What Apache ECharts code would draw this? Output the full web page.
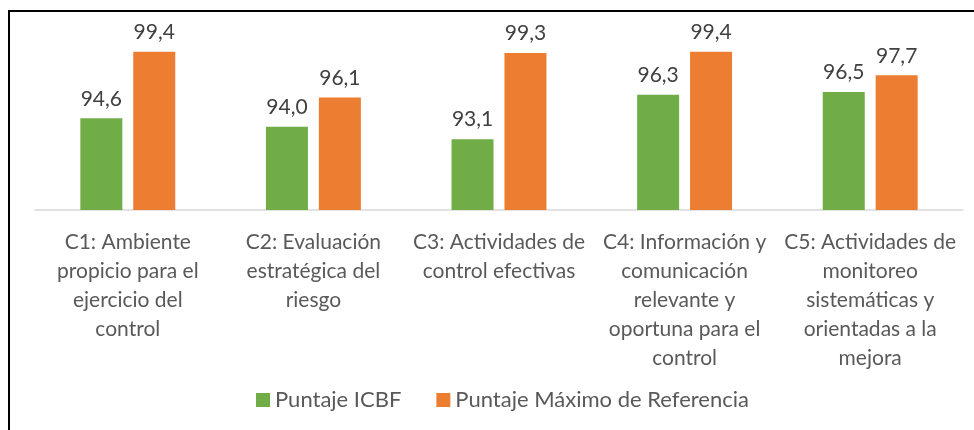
<!DOCTYPE html>
<html>
<head>
<meta charset="utf-8">
<script src="https://cdn.jsdelivr.net/npm/echarts@6/dist/echarts.min.js"></script>
<style>
  html, body { margin: 0; padding: 0; background: #fff; }
  #chart { width: 974px; height: 430px; }
</style>
</head>
<body>
<div id="chart"></div>
<script>
const categories = [
  "C1: Ambiente\npropicio para el\nejercicio del\ncontrol",
  "C2: Evaluación\nestratégica del\nriesgo",
  "C3: Actividades de\ncontrol efectivas",
  "C4: Información y\ncomunicación\nrelevante y\noportuna para el\ncontrol",
  "C5: Actividades de\nmonitoreo\nsistemáticas y\norientadas a la\nmejora"
];
const seriesNames = ["Puntaje ICBF", "Puntaje Máximo de Referencia"];
const puntajeICBF = [94.6, 94.0, 93.1, 96.3, 96.5];
const puntajeMaximo = [99.4, 96.1, 99.3, 99.4, 97.7];

const font = "Lato";
const textColor = "#595959";

const myChart = echarts.init(document.getElementById("chart"));

const labelOpt = {
  show: true,
  position: "top",
  distance: 9,
  fontFamily: font,
  fontSize: 21,
  color: "#404040",
  formatter: (p) => p.value.toFixed(1).replace(".", ",")
};

const option = {
  animation: false,
  color: ["#70AD47", "#ED7D31"],
  graphic: [
    {
      type: "polyline",
      shape: { points: [[9, 430], [9, 11], [974, 11]] },
      style: { stroke: "#000", lineWidth: 2, fill: null }
    }
  ],
  grid: { left: 35, right: 11, top: 42, bottom: 220 },
  legend: {
    left: 251,
    top: 384,
    itemWidth: 14,
    itemHeight: 14,
    itemGap: 35,
    icon: "rect",
    textStyle: { fontFamily: font, fontSize: 22, color: textColor },
    data: seriesNames
  },
  xAxis: {
    type: "category",
    data: categories,
    axisTick: { show: false },
    axisLine: { lineStyle: { color: "#D9D9D9", width: 1.5 } },
    axisLabel: {
      interval: 0,
      margin: 18,
      fontFamily: font,
      fontSize: 21,
      lineHeight: 29,
      color: textColor
    }
  },
  yAxis: {
    type: "value",
    min: 88,
    max: 100.1,
    show: false,
    splitLine: { show: false }
  },
  series: [
    {
      name: seriesNames[0],
      type: "bar",
      barWidth: 42,
      barGap: "26%",
      data: puntajeICBF,
      label: labelOpt
    },
    {
      name: seriesNames[1],
      type: "bar",
      barWidth: 42,
      barGap: "26%",
      data: puntajeMaximo,
      label: labelOpt
    }
  ]
};
myChart.setOption(option);
</script>
</body>
</html>
